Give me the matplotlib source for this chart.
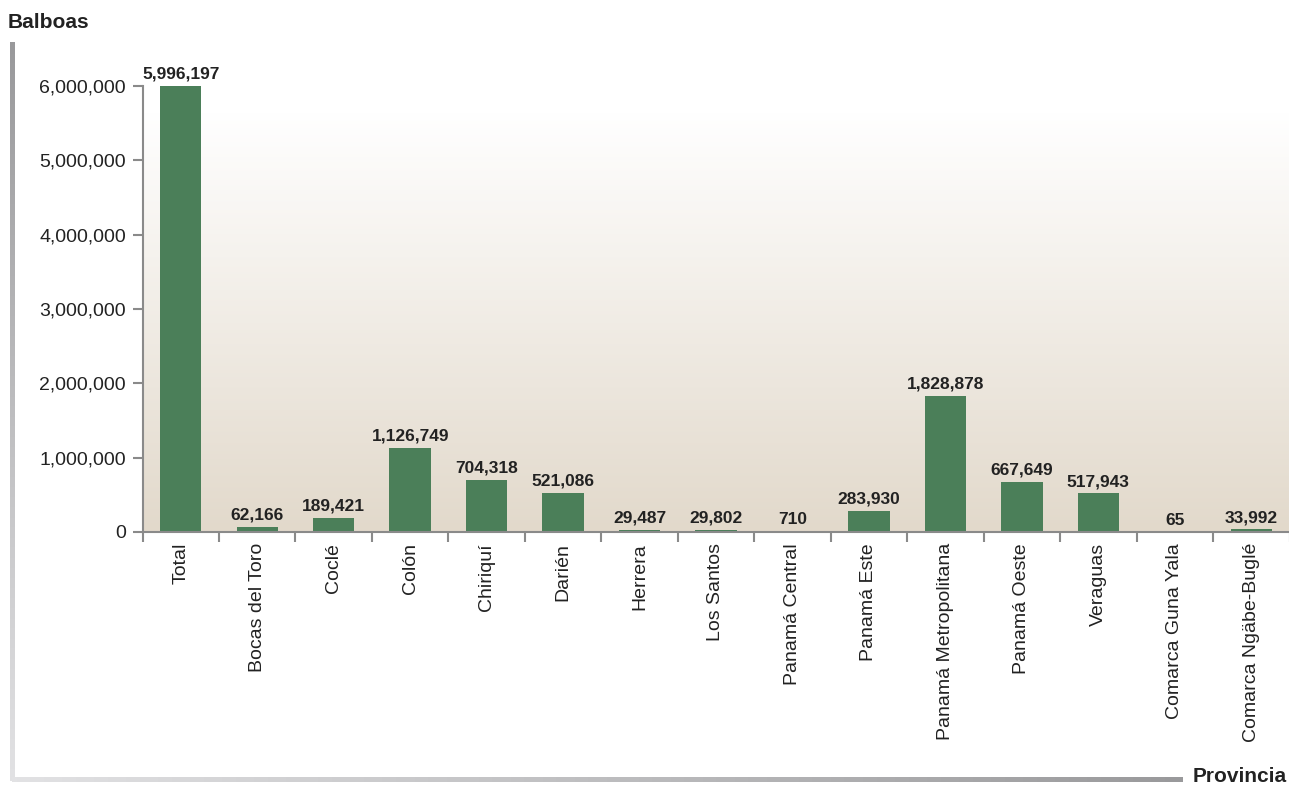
import numpy as np
import matplotlib
matplotlib.use('Agg')
import matplotlib.pyplot as plt

provincias = ['Total', 'Bocas del Toro', 'Coclé', 'Colón', 'Chiriquí', 'Darién',
              'Herrera', 'Los Santos', 'Panamá Central', 'Panamá Este',
              'Panamá Metropolitana', 'Panamá Oeste', 'Veraguas',
              'Comarca Guna Yala', 'Comarca Ngäbe-Buglé']
valores = [5996197, 62166, 189421, 1126749, 704318, 521086, 29487, 29802,
           710, 283930, 1828878, 667649, 517943, 65, 33992]
yticks = [0, 1000000, 2000000, 3000000, 4000000, 5000000, 6000000]

plt.rcParams['font.family'] = ['Liberation Sans', 'DejaVu Sans']

fig = plt.figure(figsize=(12.89, 7.88), dpi=100)
W, H = 1289, 788
ax = fig.add_axes([142.5 / W, 1 - 532 / H, (1289.5 - 142.5) / W, (532 - 86) / H])

n = len(provincias)
x = np.arange(n)
ax.set_xlim(-0.5, n - 0.5)
ax.set_ylim(0, 6000000)

# fondo degradado: blanco arriba, beige abajo
grad = np.linspace(0, 1, 256)
top = np.array([1.0, 1.0, 1.0])
bot = np.array([0xe2, 0xd9, 0xcb]) / 255
t = np.clip(grad / 0.94, 0, 1)[:, None]
img = (bot * (1 - t) + top * t).reshape(256, 1, 3)
ax.imshow(img, extent=[-0.5, n - 0.5, 0, 6000000], origin='lower',
          aspect='auto', zorder=0)

ax.bar(x, valores, width=0.54, color='#4b7f59', zorder=2)
for xi, v in zip(x, valores):
    ax.text(xi, v + 60000, f'{v:,}', ha='center', va='bottom', fontsize=12.5,
            fontweight='bold', color='#222222', zorder=3)

for s in ['top', 'right']:
    ax.spines[s].set_visible(False)
for s in ['left', 'bottom']:
    ax.spines[s].set_color('#8a8a8a')
    ax.spines[s].set_linewidth(1.5)

ax.set_yticks(yticks)
ax.set_yticklabels([f'{v:,}' for v in yticks], fontsize=14, color='#222222')
ax.tick_params(axis='y', length=7, width=1.5, color='#8a8a8a', pad=5)

ax.set_xticks(x)
ax.set_xticklabels(provincias, rotation=90, fontsize=14, color='#222222')
ax.set_xticks(np.arange(-0.5, n, 1), minor=True)
ax.tick_params(axis='x', which='major', length=0, pad=8)
ax.tick_params(axis='x', which='minor', length=7, width=1.5, color='#8a8a8a')

fig.text(8 / W, 1 - 22 / H, 'Balboas', fontsize=15, fontweight='bold',
         color='#222222', va='center', ha='left')
fig.text(1287 / W, 1 - 777 / H, 'Provincia', fontsize=15, fontweight='bold',
         color='#222222', va='center', ha='right')

# marco exterior con degradado gris
dark = np.array([0x99, 0x99, 0x9b]) / 255
light = np.array([0xe2, 0xe2, 0xe4]) / 255
s = np.linspace(0, 1, 256)[:, None]

ax_l = fig.add_axes([9.5 / W, 1 - 781 / H, 5 / W, (781 - 42) / H])
ax_l.imshow((dark * (1 - s) + light * s).reshape(256, 1, 3), aspect='auto')
ax_l.axis('off')

ax_b = fig.add_axes([12 / W, 1 - 781.5 / H, (1183 - 12) / W, 5 / H])
ax_b.imshow((light * (1 - s) + dark * s).reshape(1, 256, 3), aspect='auto')
ax_b.axis('off')

fig.savefig('out.png', dpi=100)
